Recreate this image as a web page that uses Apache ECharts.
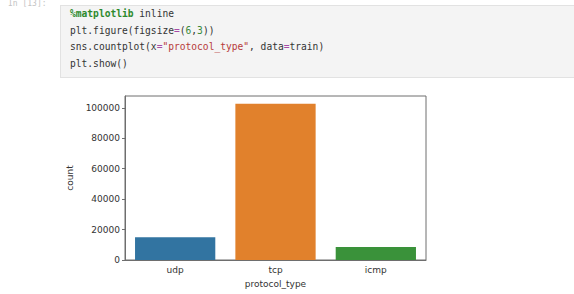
<!DOCTYPE html>
<html>
<head>
<meta charset="utf-8">
<script src="https://cdn.jsdelivr.net/npm/echarts@6/dist/echarts.min.js"></script>
<style>
  html, body { margin: 0; padding: 0; background: #fff; }
  #chart { position: absolute; left: 0; top: 0; width: 574px; height: 294px; }
  .prompt { position: absolute; left: 8px; top: 0px; font: 8px/8px "DejaVu Sans Mono", monospace; color: #c4c4c4; }
  .cell { position: absolute; left: 60px; top: 5px; width: 514px; height: 73px;
          background: #f4f4f4; border: 1px solid #e2e2e2; border-right: none; box-sizing: border-box; }
  .code { position: absolute; left: 9px; top: -1px; }
  .line { display: flex; height: 16.8px; align-items: center;
          font: 9.6px "DejaVu Sans Mono", monospace; color: #333; white-space: pre; }
  .m { color: #2d8a2d; font-weight: bold; }
  .o { color: #a64ca6; }
  .n { color: #3a8a3a; }
  .s { color: #b73a3a; }
</style>
</head>
<body>
<div id="chart"></div>
<div class="prompt"><span>In [13]:</span></div>
<div class="cell"><div class="code">
  <div class="line"><span class="m">%matplotlib</span><span> inline</span></div>
  <div class="line"><span>plt.figure(figsize</span><span class="o">=</span><span>(</span><span class="n">6</span><span>,</span><span class="n">3</span><span>))</span></div>
  <div class="line"><span>sns.countplot(x</span><span class="o">=</span><span class="s">"protocol_type"</span><span>, data</span><span class="o">=</span><span>train)</span></div>
  <div class="line"><span>plt.show()</span></div>
</div></div>
<script>
// data
var categories = ['udp', 'tcp', 'icmp'];
var counts = [15000, 102600, 8600];
var barColors = ['#3274a1', '#e1812c', '#3a923a'];
var yTicks = [0, 20000, 40000, 60000, 80000, 100000];

var myChart = echarts.init(document.getElementById('chart'), null, { renderer: 'svg' });

var option = {
    animation: false,
    grid: {
        left: 125,
        right: 148,
        top: 96,
        bottom: 34,
        show: true,
        borderColor: '#6e6e6e',
        borderWidth: 1,
        backgroundColor: 'transparent'
    },
    xAxis: {
        type: 'category',
        data: categories,
        name: 'protocol_type',
        nameLocation: 'middle',
        nameGap: 19,
        nameTextStyle: { fontFamily: 'DejaVu Sans', fontSize: 9, color: '#333' },
        axisLine: { lineStyle: { color: '#6e6e6e' } },
        axisTick: { alignWithLabel: true, length: 3, lineStyle: { color: '#6e6e6e' } },
        axisLabel: { fontFamily: 'DejaVu Sans', fontSize: 9, color: '#333', margin: 5 }
    },
    yAxis: {
        type: 'value',
        min: 0,
        max: Math.max.apply(null, counts) * 1.05,
        name: 'count',
        nameLocation: 'middle',
        nameRotate: 90,
        nameGap: 42,
        nameTextStyle: { fontFamily: 'DejaVu Sans', fontSize: 9, color: '#333' },
        splitLine: { show: false },
        axisLine: { show: true, lineStyle: { color: '#6e6e6e' } },
        axisTick: { show: true, length: 3, customValues: yTicks, lineStyle: { color: '#6e6e6e' } },
        axisLabel: {
            fontFamily: 'DejaVu Sans', fontSize: 9, color: '#333', margin: 5,
            customValues: yTicks,
            formatter: function (v) { return String(v); }
        }
    },
    series: [{
        type: 'bar',
        barCategoryGap: '20%',
        data: counts.map(function (v, i) {
            return { value: v, itemStyle: { color: barColors[i] } };
        })
    }]
};

myChart.setOption(option);
</script>
</body>
</html>
